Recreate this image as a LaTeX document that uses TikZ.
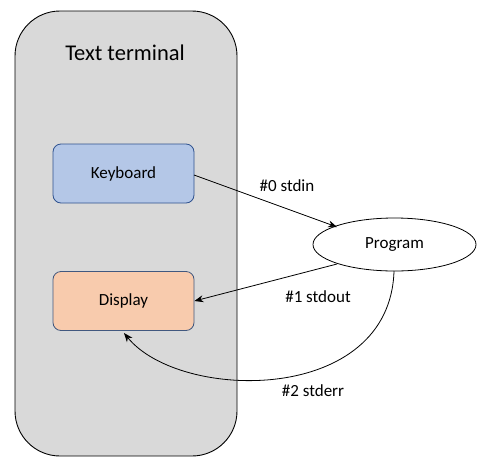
\documentclass[tikz,border=0pt]{standalone}
\usepackage{fontspec}
\setmainfont{Carlito}
\usetikzlibrary{shapes.geometric,arrows.meta}

\definecolor{termgray}{HTML}{D9D9D9}
\definecolor{keyblue}{HTML}{B4C7E7}
\definecolor{keyedge}{HTML}{2F528F}
\definecolor{dispsalmon}{HTML}{F8CBAD}
\definecolor{dispedge}{HTML}{41587F}

\tikzset{
    device/.style={draw, line width=0.8pt, rounded corners=8pt, minimum width=141pt,
        minimum height=59pt, font=\fontsize{17}{20}\selectfont},
    stream/.style={-{Stealth[length=9pt,width=7pt]}, line width=0.8pt},
    streamlabel/.style={font=\fontsize{17}{20}\selectfont}
}

\begin{document}
\begin{tikzpicture}[x=1pt, y=-1pt]
    \useasboundingbox (0,0) rectangle (487,474);

    % terminal
    \node[draw, line width=0.9pt, fill=termgray, rounded corners=45pt, minimum width=222pt,
        minimum height=445pt] (term) at (126,233.5) {};
    \node[font=\fontsize{22.5}{27}\selectfont] (title) at (125,53) {Text terminal};

    \node[device, fill=keyblue, draw=keyedge] (kbd) at (123.5,173.5) {Keyboard};
    \node[device, fill=dispsalmon, draw=dispedge] (disp) at (123.5,301) {Display};

    % process
    \node[draw, line width=0.8pt, ellipse, minimum width=163pt, minimum height=53pt,
        font=\fontsize{17}{20}\selectfont] (prog) at (394.5,244.5) {Program};

    \coordinate (kbdout) at (194,175);
    \coordinate (progin) at (337,227);
    \coordinate (progout) at (337,264);
    \coordinate (errout) at (394,271);
    \coordinate (disperr) at (124,333);

    \draw[stream] (kbdout) -- (progin);
    \draw[stream] (progout) -- (disp.east);
    \draw[stream] (errout) .. controls (390,405) and (180,402) .. (disperr);

    \node[streamlabel] (lin) at (287,186) {\#0 stdin};
    \node[streamlabel] (lout) at (318,297) {\#1 stdout};
    \node[streamlabel] (lerr) at (313,391) {\#2 stderr};
\end{tikzpicture}
\end{document}
